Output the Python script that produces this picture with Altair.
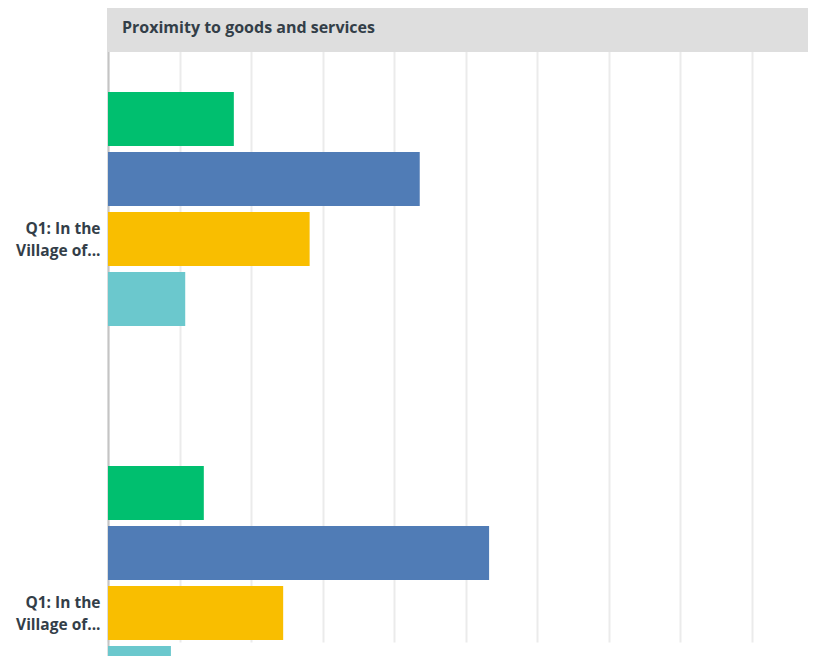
import altair as alt
import pandas as pd

rows = ["r1", "r2"]
row_labels = ["Q1: In the|Village of...", "Q1: In the|Village of..."]
series = ["S1", "S2", "S3", "S4"]
colors = ["#00bf6f", "#507cb6", "#f9be00", "#6bc8cd"]
values_r1 = [17.6, 43.6, 28.2, 10.8]
values_r2 = [13.4, 53.3, 24.5, 8.8]
title_text = "Proximity to goods and services"

recs = []
for s, v in zip(series, values_r1):
    recs.append({"row": "r1", "series": s, "value": v})
for s, v in zip(series, values_r2):
    recs.append({"row": "r2", "series": s, "value": v})
df = pd.DataFrame(recs)

W = 700
H = 648
XMAX = W / 71.5 * 10

label_expr = "datum.value == 'r1' ? split('%s', '|') : split('%s', '|')" % (row_labels[0], row_labels[1])

bars = alt.Chart(df).mark_bar(cornerRadius=0).encode(
    x=alt.X("value:Q", scale=alt.Scale(domain=[0, XMAX], nice=False, zero=True),
            axis=alt.Axis(values=list(range(0, 100, 10)), labels=False, ticks=False,
                          domain=False, grid=True, gridColor="#ebebeb", gridWidth=2, title=None)),
    y=alt.Y("row:N", sort=rows, scale=alt.Scale(domain=rows, range=[14, 762],
                                                paddingInner=0.358, paddingOuter=0.179),
            axis=alt.Axis(title=None, ticks=False, labelPadding=8, labelExpr=label_expr,
                          labelFont="Open Sans", labelFontSize=15.5, labelFontWeight="bold",
                          labelColor="#333e48", labelLineHeight=22, labelOffset=20,
                          domainColor="#c4c4c4", domainWidth=2, labelLimit=200)),
    yOffset=alt.YOffset("series:N", sort=series,
                        scale=alt.Scale(paddingInner=0.1, paddingOuter=0.05)),
    color=alt.Color("series:N", sort=series, scale=alt.Scale(domain=series, range=colors), legend=None),
)

header = alt.Chart(pd.DataFrame({"t": [title_text]})).mark_rect(color="#dedede").encode(
    x=alt.value(-1), x2=alt.value(W), y=alt.value(-2), y2=alt.value(44)
)
header_text = alt.Chart(pd.DataFrame({"t": [title_text]})).mark_text(
    align="left", baseline="alphabetic", font="Open Sans", fontSize=16, fontWeight="bold",
    color="#333e48"
).encode(text="t:N", x=alt.value(14), y=alt.value(25))

chart = alt.layer(bars, header, header_text).properties(
    width=W, height=H,
    autosize=alt.AutoSizeParams(type="none"),
    padding={"left": 100, "top": 0, "right": 0, "bottom": 0},
).configure_view(stroke=None)

chart.save("out.html", embed_options={"renderer": "svg", "actions": False})
